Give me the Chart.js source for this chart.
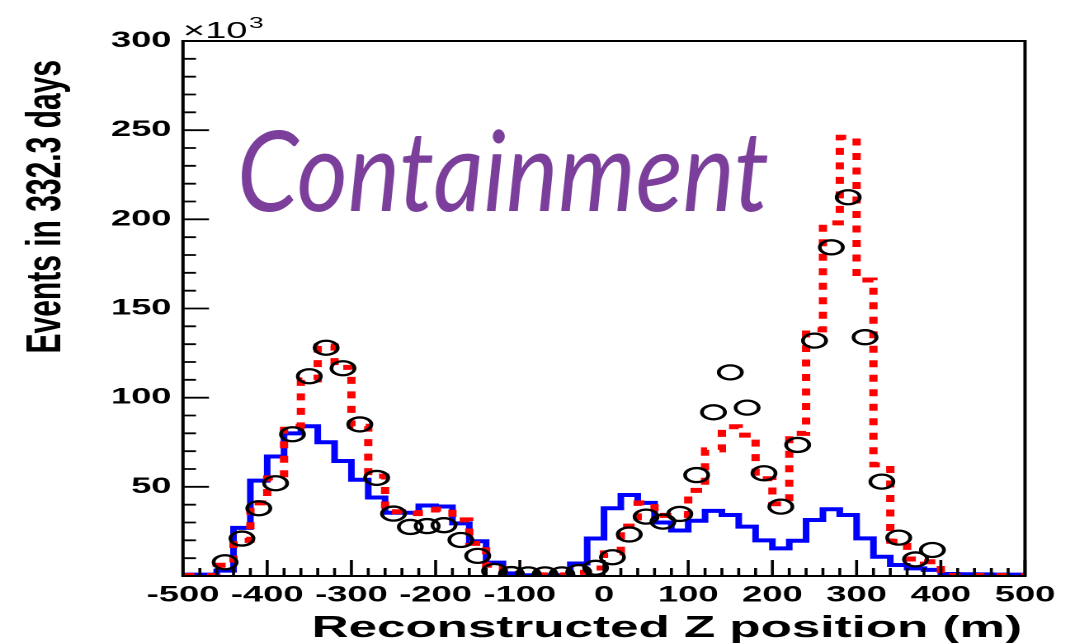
<!DOCTYPE html>
<html>
<head>
<meta charset="utf-8">
<script src="https://cdn.jsdelivr.net/npm/chart.js@4.4.1/dist/chart.umd.min.js"></script>
<style>
    html, body { margin: 0; padding: 0; background: #fff; overflow: hidden; }
    #posicion-z { position: absolute; left: 0; top: 0; transform-origin: 0 0; }
</style>
</head>
<body>
<canvas id="posicion-z" width="650" height="643"></canvas>
<script>
"use strict"

// the whole figure is drawn narrow and widened with CSS
const ESTIRADO = 1.65;
const ANCHO_BIN = 20;

// bin centres, reconstructed Z (m)
const centrosZ = [
    -490, -470, -450, -430, -410, -390, -370, -350, -330, -310,
    -290, -270, -250, -230, -210, -190, -170, -150, -130, -110,
    -90, -70, -50, -30, -10, 10, 30, 50, 70, 90,
    110, 130, 150, 170, 190, 210, 230, 250, 270, 290,
    310, 330, 350, 370, 390, 410, 430, 450, 470, 490
];

// events per bin (x10^3)
const eventosAzul = [
    0.8, 0.8, 3, 27, 53.5, 67, 80, 84, 75, 64.5,
    54, 44, 35.5, 35.5, 39.5, 39, 29.5, 19.5, 7.5, 1.5,
    0.4, 0.4, 0.4, 7, 21, 38, 45.4, 41, 30, 25.5,
    31, 36.5, 34.2, 27.7, 20, 15.5, 19.8, 31.4, 37.4, 34.2,
    21.1, 10.8, 6.2, 4.3, 3.4, 1.1, 1, 0.9, 0.8, 0.8
];

const eventosRojo = [
    0.3, 0.3, 6, 20, 41, 55, 84, 110, 129, 117,
    84, 56, 36, 35, 37, 37.5, 31.5, 18.3, 6, 1.5,
    0.6, 0.6, 0.6, 2, 4.5, 13, 28, 41, 34, 34,
    48, 70.7, 83.7, 79, 54.5, 40.5, 80, 138, 198, 246,
    166, 62.3, 19.5, 9.5, 8, 0.3, 0.3, 0.3, 0.3, 0.3
];

const eventosDatos = [
    null, null, 7.7, 21, 38, 52, 79.5, 112, 128, 116.5,
    85, 55, 35, 27.5, 28, 28.5, 20.2, 11.3, 2.8, 1.1,
    0.9, 0.9, 0.9, 2.2, 4.6, 10.5, 23.3, 33.3, 30.5, 34.8,
    56.6, 91.8, 114.2, 94.4, 57.6, 38.9, 73.5, 132, 184.3, 212.4,
    133.9, 52.9, 21.5, 9.3, 14.6, null, null, null, null, null
];

const etiquetasX = [-500, -400, -300, -200, -100, 0, 100, 200, 300, 400, 500];
const etiquetasY = [50, 100, 150, 200, 250, 300];

function escalones(valores) {
    let puntos = valores.map((v, i) => ({ x: centrosZ[i] - ANCHO_BIN / 2, y: v }));
    puntos.push({ x: centrosZ[centrosZ.length - 1] + ANCHO_BIN / 2, y: valores[valores.length - 1] });
    return puntos;
}

let puntosDatos = [];
eventosDatos.forEach((v, i) => {
    if (v !== null) {
        puntosDatos.push({ x: centrosZ[i], y: v });
    }
});

// frame, inner ticks and the free texts
const marco = {
    id: "marco",
    afterDraw(chart) {
        const ctx = chart.ctx;
        const a = chart.chartArea;
        const x = chart.scales.x;
        const y = chart.scales.y;

        ctx.save();
        ctx.strokeStyle = "#000";
        ctx.lineWidth = 2;
        ctx.strokeRect(a.left, a.top, a.right - a.left, a.bottom - a.top);

        ctx.beginPath();
        for (let v = -500; v <= 500; v += ANCHO_BIN) {
            let px = x.getPixelForValue(v);
            let largo = v % 100 === 0 ? 16 : 8;
            ctx.moveTo(px, a.bottom);
            ctx.lineTo(px, a.bottom - largo);
        }
        for (let v = 0; v <= 300; v += 10) {
            let py = y.getPixelForValue(v);
            let largo = (v % 50 === 0 ? 26 : 13) / ESTIRADO;
            ctx.moveTo(a.left, py);
            ctx.lineTo(a.left + largo, py);
        }
        ctx.lineWidth = 1.8;
        ctx.stroke();

        ctx.fillStyle = "#000";
        ctx.textBaseline = "alphabetic";

        // x10^3 multiplier
        ctx.textAlign = "left";
        ctx.font = "23px 'Liberation Sans'";
        ctx.fillText("\u00d710", a.left, 38);
        let anchoMult = ctx.measureText("\u00d710").width;
        ctx.font = "16px 'Liberation Sans'";
        ctx.fillText("3", a.left + anchoMult + 1, 28);

        // axis titles
        ctx.font = "bold 31px 'Liberation Sans'";
        ctx.textAlign = "right";
        ctx.fillText("Reconstructed Z position (m)", 1022 / ESTIRADO, 637);

        ctx.save();
        ctx.translate(60 / ESTIRADO, 60);
        ctx.rotate(-Math.PI / 2);
        ctx.font = "bold 30px 'Liberation Sans'";
        ctx.textAlign = "right";
        ctx.fillText("Events in 332.3 days", 0, 0);
        ctx.restore();

        // label written at its natural width, undoing the stretch
        ctx.save();
        ctx.scale(1 / ESTIRADO, 1);
        ctx.font = "italic 112px Lato";
        ctx.textAlign = "left";
        let w = ctx.measureText("Containment").width;
        ctx.translate(237, 0);
        ctx.scale(532 / w, 1);
        ctx.fillStyle = "#7b3f9b";
        ctx.fillText("Containment", 0, 211);
        ctx.restore();

        ctx.restore();
    }
};

const fuenteEjes = { family: "Liberation Sans", weight: "bold", size: 22 };

let lienzo = document.getElementById("posicion-z");

new Chart(lienzo.getContext("2d"), {
    type: "line",
    data: {
        datasets: [{
            type: "scatter",
            data: puntosDatos,
            pointStyle: "circle",
            pointRadius: 7,
            pointBorderWidth: 2.3,
            pointBorderColor: "#000",
            pointBackgroundColor: "rgba(0,0,0,0)"
        }, {
            data: escalones(eventosRojo),
            stepped: true,
            borderColor: "#ff0000",
            borderWidth: 5,
            borderDash: [7, 7.5],
            borderJoinStyle: "miter",
            pointRadius: 0,
            fill: false
        }, {
            data: escalones(eventosAzul),
            stepped: true,
            borderColor: "#0000ff",
            borderWidth: 4,
            borderJoinStyle: "miter",
            pointRadius: 0,
            fill: false
        }]
    },
    options: {
        responsive: false,
        animation: false,
        devicePixelRatio: 2,
        layout: { padding: { top: 41, right: 650 - 1025 / ESTIRADO, left: 0, bottom: 0 } },
        plugins: {
            legend: { display: false },
            tooltip: { enabled: false }
        },
        scales: {
            x: {
                type: "linear",
                min: -500,
                max: 500,
                grid: { display: false, drawTicks: false },
                border: { display: false },
                afterBuildTicks: s => { s.ticks = etiquetasX.map(v => ({ value: v })); },
                ticks: { font: fuenteEjes, color: "#000", padding: 6, maxRotation: 0, autoSkip: false },
                afterFit: s => { s.height = 67; }
            },
            y: {
                min: 0,
                max: 300,
                grid: { display: false, drawTicks: false },
                border: { display: false },
                afterBuildTicks: s => { s.ticks = etiquetasY.map(v => ({ value: v })); },
                ticks: { font: fuenteEjes, color: "#000", padding: 7 },
                afterFit: s => { s.width = 183 / ESTIRADO; }
            }
        }
    },
    plugins: [marco]
});

lienzo.style.transform = "scaleX(" + ESTIRADO + ")";
</script>
</body>
</html>
